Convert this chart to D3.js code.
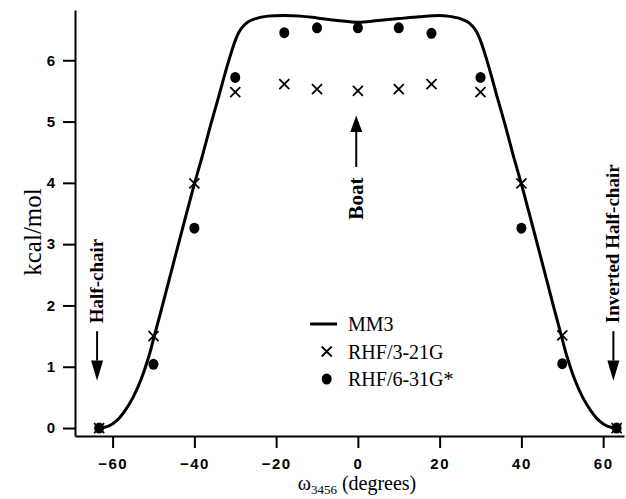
<!DOCTYPE html>
<html>
<head>
<meta charset="utf-8">
<script src="https://cdn.jsdelivr.net/npm/d3@7"></script>
<style>
  body { margin: 0; background: #fff; }
  svg { display: block; }
  .tick text { font-family: "Liberation Sans", Arial, sans-serif; font-weight: bold; font-size: 15px; }
  .serif { font-family: "Liberation Serif", "Times New Roman", serif; }
</style>
</head>
<body>
<svg id="chart" width="626" height="499"></svg>
<script>
// MM3 curve (omega, kcal/mol)
var mm3Omega = [-63.3, -61, -59, -57, -55, -53, -51, -50, -48, -45, -42, -40, -38, -36, -34, -32, -31, -30, -29, -28, -27, -25, -22, -18, -14, -10, -5, 0, 5, 10, 15, 20, 22, 25, 27, 28, 29, 30, 31, 32, 34, 36, 38, 40, 42, 45, 48, 50, 51, 53, 55, 57, 59, 61, 63.3];
var mm3Energy = [0, 0.03, 0.12, 0.28, 0.5, 0.8, 1.2, 1.45, 1.95, 2.72, 3.48, 3.98, 4.45, 4.95, 5.42, 5.9, 6.12, 6.32, 6.47, 6.56, 6.62, 6.68, 6.72, 6.73, 6.72, 6.69, 6.65, 6.62, 6.65, 6.68, 6.71, 6.73, 6.72, 6.68, 6.62, 6.56, 6.47, 6.32, 6.12, 5.9, 5.42, 4.95, 4.45, 3.98, 3.48, 2.72, 1.95, 1.45, 1.2, 0.8, 0.5, 0.28, 0.12, 0.03, 0];

// RHF/3-21G points
var rhf321Omega = [-63.3, -50, -40, -30, -18, -10, 0, 10, 18, 30, 40, 50, 63.3];
var rhf321Energy = [0, 1.5, 3.99, 5.48, 5.61, 5.53, 5.5, 5.53, 5.61, 5.48, 3.99, 1.51, 0];

// RHF/6-31G* points
var rhf631Omega = [-63.3, -50, -40, -30, -18, -10, 0, 10, 18, 30, 40, 50, 63.3];
var rhf631Energy = [0, 1.04, 3.26, 5.72, 6.45, 6.53, 6.53, 6.53, 6.44, 5.72, 3.26, 1.05, 0];

var xTicks = [-60, -40, -20, 0, 20, 40, 60];
var yTicks = [0, 1, 2, 3, 4, 5, 6];

var legendLabels = ["MM3", "RHF/3-21G", "RHF/6-31G*"];

var svg = d3.select("#chart");

var margin = {top: 10, left: 75},
    width = 549,
    height = 426;

var x = d3.scaleLinear().domain([-69.2, 65.1]).range([0, width]);
var y = d3.scaleLinear().domain([-0.13, 6.82]).range([height, 0]);

var g = svg.append("g")
  .attr("transform", "translate(" + margin.left + "," + margin.top + ")");

//Axes
var xAxis = g.append("g")
  .attr("transform", "translate(0," + height + ")")
  .call(d3.axisBottom(x).tickValues(xTicks).tickSize(12).tickSizeOuter(0).tickPadding(10).tickFormat(d3.format("d")));
xAxis.selectAll(".tick text").attr("letter-spacing", "1.5px");

var yAxis = g.append("g")
  .call(d3.axisLeft(y).tickValues(yTicks).tickSize(12).tickSizeOuter(0).tickPadding(8).tickFormat(d3.format("d")));

g.selectAll(".domain").attr("stroke", "#000").attr("stroke-width", 2);
g.selectAll(".tick line").attr("stroke", "#000").attr("stroke-width", 2);
g.selectAll(".tick text").attr("fill", "#000");

//MM3 line
var line = d3.line()
  .x(function(d) { return x(d[0]); })
  .y(function(d) { return y(d[1]); })
  .curve(d3.curveCatmullRom);

g.append("path")
  .datum(d3.zip(mm3Omega, mm3Energy))
  .attr("fill", "none")
  .attr("stroke", "#000")
  .attr("stroke-width", 3)
  .attr("d", line);

//RHF/6-31G* dots
g.selectAll(".dot")
  .data(d3.zip(rhf631Omega, rhf631Energy))
  .enter().append("ellipse")
  .attr("class", "dot")
  .attr("cx", function(d) { return x(d[0]); })
  .attr("cy", function(d) { return y(d[1]); })
  .attr("rx", 5)
  .attr("ry", 5.5)
  .attr("fill", "#000");

//RHF/3-21G crosses
g.selectAll(".cross")
  .data(d3.zip(rhf321Omega, rhf321Energy))
  .enter().append("path")
  .attr("class", "cross")
  .attr("transform", function(d) { return "translate(" + x(d[0]) + "," + y(d[1]) + ")"; })
  .attr("d", "M-5,-5L5,5M-5,5L5,-5")
  .attr("stroke", "#000")
  .attr("stroke-width", 1.8)
  .attr("fill", "none");

//Annotations with arrows
function downArrow(xv, lineTop, headTop, tip) {
  g.append("line")
    .attr("x1", x(xv)).attr("x2", x(xv))
    .attr("y1", y(lineTop)).attr("y2", y(headTop))
    .attr("stroke", "#000").attr("stroke-width", 2);
  g.append("path")
    .attr("d", "M" + (x(xv) - 6) + "," + y(headTop) + "L" + (x(xv) + 6) + "," + y(headTop) + "L" + x(xv) + "," + y(tip) + "Z")
    .attr("fill", "#000");
}

downArrow(-63.8, 1.58, 1.1, 0.77);
g.append("text")
  .attr("class", "serif")
  .attr("transform", "translate(" + (x(-63.8) + 6) + "," + y(1.71) + ") rotate(-90)")
  .attr("font-size", 19)
  .attr("font-weight", "bold")
  .text("Half-chair");

downArrow(62.5, 1.58, 1.1, 0.77);
g.append("text")
  .attr("class", "serif")
  .attr("transform", "translate(" + (x(62.5) + 6) + "," + y(1.71) + ") rotate(-90)")
  .attr("font-size", 19)
  .attr("font-weight", "bold")
  .text("Inverted Half-chair");

//Boat arrow points up
g.append("line")
  .attr("x1", x(-0.4)).attr("x2", x(-0.4))
  .attr("y1", y(4.26)).attr("y2", y(4.83))
  .attr("stroke", "#000").attr("stroke-width", 2);
g.append("path")
  .attr("d", "M" + (x(-0.4) - 6) + "," + y(4.83) + "L" + (x(-0.4) + 6) + "," + y(4.83) + "L" + x(-0.4) + "," + y(5.1) + "Z")
  .attr("fill", "#000");
g.append("text")
  .attr("class", "serif")
  .attr("transform", "translate(" + (x(-0.4) + 7) + "," + y(3.4) + ") rotate(-90)")
  .attr("font-size", 21)
  .attr("font-weight", "bold")
  .text("Boat");

//Legend
var legend = g.append("g").attr("transform", "translate(" + (310 - margin.left) + "," + (324 - margin.top) + ")");
legend.append("line")
  .attr("x1", 0).attr("x2", 27).attr("y1", 0).attr("y2", 0)
  .attr("stroke", "#000").attr("stroke-width", 3);
legend.append("path")
  .attr("d", "M11.7,22.5L21.7,32.5M11.7,32.5L21.7,22.5")
  .attr("stroke", "#000").attr("stroke-width", 1.8);
legend.append("ellipse")
  .attr("cx", 16.7).attr("cy", 55).attr("rx", 5).attr("ry", 5.5).attr("fill", "#000");
legend.selectAll(".ltext")
  .data(legendLabels)
  .enter().append("text")
  .attr("class", "serif")
  .attr("x", 38)
  .attr("y", function(d, i) { return i * 27.5 + 7; })
  .attr("font-size", 20)
  .text(function(d) { return d; });

//Axis labels
svg.append("text")
  .attr("class", "serif")
  .attr("transform", "translate(41,232) rotate(-90)")
  .attr("text-anchor", "middle")
  .attr("font-size", 25)
  .text("kcal/mol");

var xl = svg.append("text")
  .attr("class", "serif")
  .attr("x", 357)
  .attr("y", 490)
  .attr("text-anchor", "middle")
  .attr("font-size", 20);
xl.append("tspan").text("\u03c9");
xl.append("tspan").attr("font-size", 13).attr("dy", 4).text("3456");
xl.append("tspan").attr("dy", -4).text(" (degrees)");
</script>
</body>
</html>
